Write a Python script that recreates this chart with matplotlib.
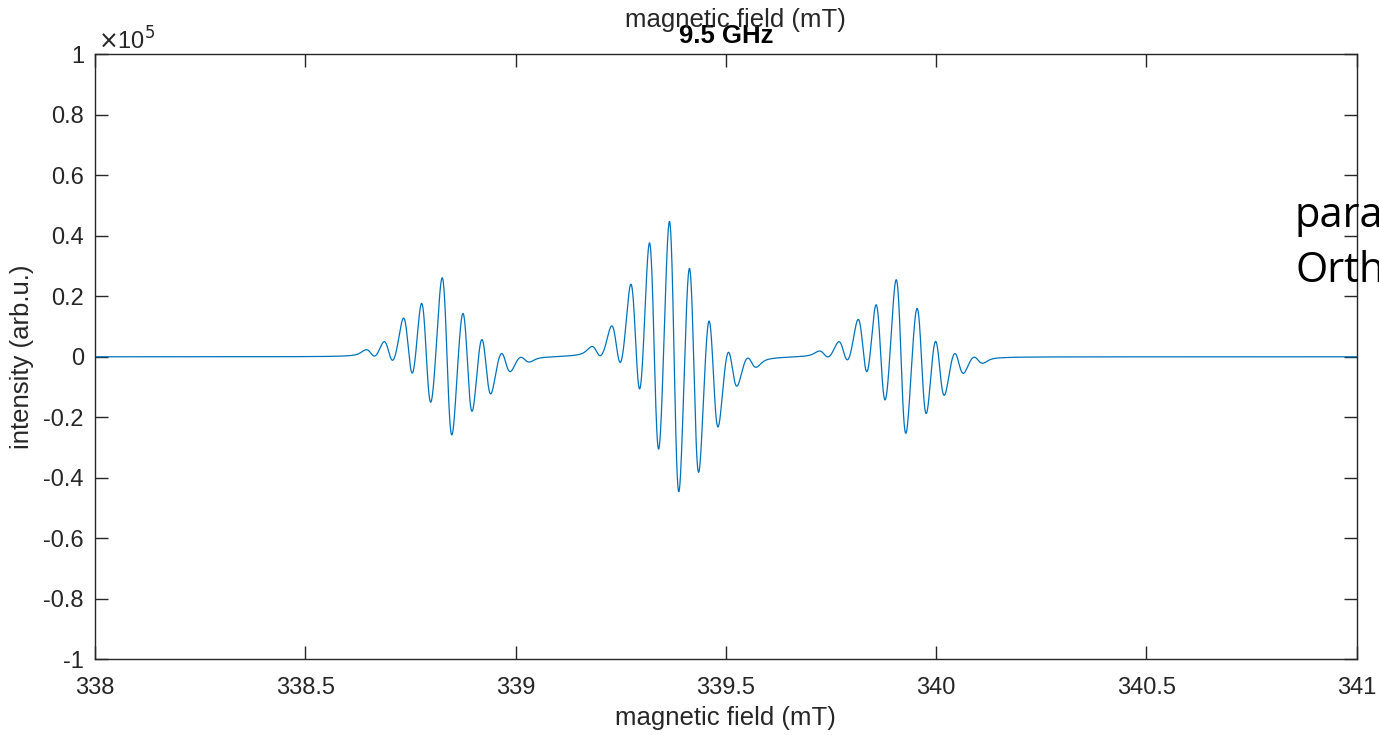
import numpy as np
import matplotlib
matplotlib.use("Agg")
import matplotlib.pyplot as plt

# Field sweep (mT) and intensity axis (x 1e5 arb.u.)
field_min, field_max = 338.0, 341.0
x_ticks = [338, 338.5, 339, 339.5, 340, 340.5, 341]
x_tick_labels = ["338", "338.5", "339", "339.5", "340", "340.5", "341"]
y_ticks = [-1, -0.8, -0.6, -0.4, -0.2, 0, 0.2, 0.4, 0.6, 0.8, 1]
y_tick_labels = ["-1", "-0.8", "-0.6", "-0.4", "-0.2", "0", "0.2", "0.4", "0.6", "0.8", "1"]

# Alternating maxima / minima of the first-derivative spectrum, one list per
# 14N manifold: field in mT, intensity in units of 1e5 arb.u.
low_field = [338.650, 338.663, 338.688, 338.709, 338.733, 338.757, 338.774, 338.801, 338.828,
             338.846, 338.872, 338.899, 338.918, 338.941, 338.965, 338.987, 339.012, 339.030]
low_value = [0.017, -0.003, 0.053, -0.005, 0.114, -0.060, 0.171, -0.137, 0.232,
             -0.269, 0.135, -0.174, 0.058, -0.117, 0.000, -0.057, 0.000, -0.018]

mid_field = [339.185, 339.201, 339.229, 339.251, 339.274, 339.297, 339.317, 339.342, 339.365,
             339.389, 339.412, 339.436, 339.458, 339.482, 339.504, 339.526, 339.552, 339.569]
mid_value = [0.037, 0.006, 0.107, -0.007, 0.232, -0.113, 0.397, -0.272, 0.438,
             -0.440, 0.270, -0.396, 0.111, -0.231, 0.000, -0.107, -0.007, -0.040]

high_field = [339.725, 339.743, 339.769, 339.791, 339.815, 339.837, 339.854, 339.882, 339.907,
              339.926, 339.951, 339.980, 339.997, 340.019, 340.043, 340.064, 340.090, 340.108]
high_value = [0.017, -0.003, 0.053, -0.003, 0.114, -0.057, 0.162, -0.134, 0.279,
              -0.220, 0.135, -0.173, 0.058, -0.117, 0.004, -0.057, 0.000, -0.020]

# Flat baseline stretches of the sweep
baseline_field = [338.0, 338.3, 338.5, 338.58, 339.10, 339.13, 339.64, 339.67, 340.18, 340.3, 340.6, 341.0]


def dshape(b, centre, half_pp, eta):
    """Pseudo-Voigt first derivative, unit peak height, lobes at centre -/+ half_pp."""
    u = (b - centre) / half_pp
    lor = -2.0 * (u / np.sqrt(3)) / (1.0 + u ** 2 / 3) ** 2 / 0.6495
    gau = -u * np.exp(-(u ** 2 - 1.0) / 2.0)
    return eta * lor + (1.0 - eta) * gau


def dshape_slope(b, centre, half_pp, eta):
    u = (b - centre) / half_pp
    v = u / np.sqrt(3)
    lor = 2.0 * (3.0 * v ** 2 - 1.0) / (1.0 + v ** 2) ** 3 / 0.6495 / np.sqrt(3)
    gau = (u ** 2 - 1.0) * np.exp(-(u ** 2 - 1.0) / 2.0)
    return (eta * lor + (1.0 - eta) * gau) / half_pp


peak_field = np.array(low_field + mid_field + high_field)
peak_value = np.array(low_value + mid_value + high_value)
# each hyperfine line sits between its positive and negative lobe
line_centre = 0.5 * (peak_field[0::2] + peak_field[1::2])
base = np.array(baseline_field)


def solve_amplitudes(half_pp, eta, slope_weight=0.15):
    rows_v = dshape(peak_field[:, None], line_centre[None, :], half_pp, eta)
    rows_s = dshape_slope(peak_field[:, None], line_centre[None, :], half_pp, eta) * half_pp * slope_weight
    rows_b = dshape(base[:, None], line_centre[None, :], half_pp, eta)
    a = np.vstack([rows_v, rows_s, rows_b])
    rhs = np.concatenate([peak_value, np.zeros(len(peak_field)), np.zeros(len(base))])
    amp, *_ = np.linalg.lstsq(a, rhs, rcond=None)
    resid = np.linalg.norm(a @ amp - rhs)
    return amp, resid


best = None
for eta in np.linspace(0.0, 1.0, 11):
    for half_pp in np.linspace(0.004, 0.02, 81):
        amp, resid = solve_amplitudes(half_pp, eta)
        if best is None or resid < best[0]:
            best = (resid, half_pp, eta, amp)
_, line_half_pp, line_eta, line_amp = best

field = np.linspace(field_min, field_max, 6001)
intensity = (line_amp[None, :] *
             dshape(field[:, None], line_centre[None, :], line_half_pp, line_eta)).sum(axis=1)

# ---- figure -----------------------------------------------------------------
plt.rcParams["font.family"] = ["Liberation Sans", "DejaVu Sans"]
axis_grey = "#262626"

fig = plt.figure(figsize=(13.79, 7.35), dpi=100)
ax = fig.add_axes([95 / 1379, 1 - 659.3 / 735, (1356.7 - 95) / 1379, (659.3 - 54.3) / 735])

ax.plot(field, intensity, color="#0072BD", lw=0.9)

ax.set_xlim(field_min, field_max)
ax.set_ylim(-1, 1)
ax.set_xticks(x_ticks)
ax.set_xticklabels(x_tick_labels)
ax.set_yticks(y_ticks)
ax.set_yticklabels(y_tick_labels)
ax.tick_params(direction="in", length=9.5, width=1.0, colors=axis_grey,
               labelsize=17, top=True, right=True)
ax.tick_params(axis="x", pad=13)
ax.tick_params(axis="y", pad=8)
for s in ax.spines.values():
    s.set_color(axis_grey)
    s.set_linewidth(1.0)

ax.set_xlabel("magnetic field (mT)", fontsize=18.5, color=axis_grey, labelpad=5)
ax.set_ylabel("intensity (arb.u.)", fontsize=18.5, color=axis_grey, labelpad=7)
ax.set_title("9.5 GHz", fontsize=18.5, fontweight="bold", color="black", pad=8)

ax.text(0.002, 1.0, r"$\times$10$^5$", transform=ax.transAxes, fontsize=17,
        color=axis_grey, ha="left", va="bottom")
fig.text(735 / 1379, 1 - 20 / 735, "magnetic field (mT)", fontsize=18.5,
         color=axis_grey, ha="center", va="center")

fig.text(1295 / 1379, 1 - 227 / 735, "para", fontsize=30, family="Open Sans",
         color="black", ha="left", va="baseline")
fig.text(1295 / 1379, 1 - 282 / 735, "Orth", fontsize=30, family="Open Sans",
         color="black", ha="left", va="baseline")

fig.savefig("out.png", dpi=100)
